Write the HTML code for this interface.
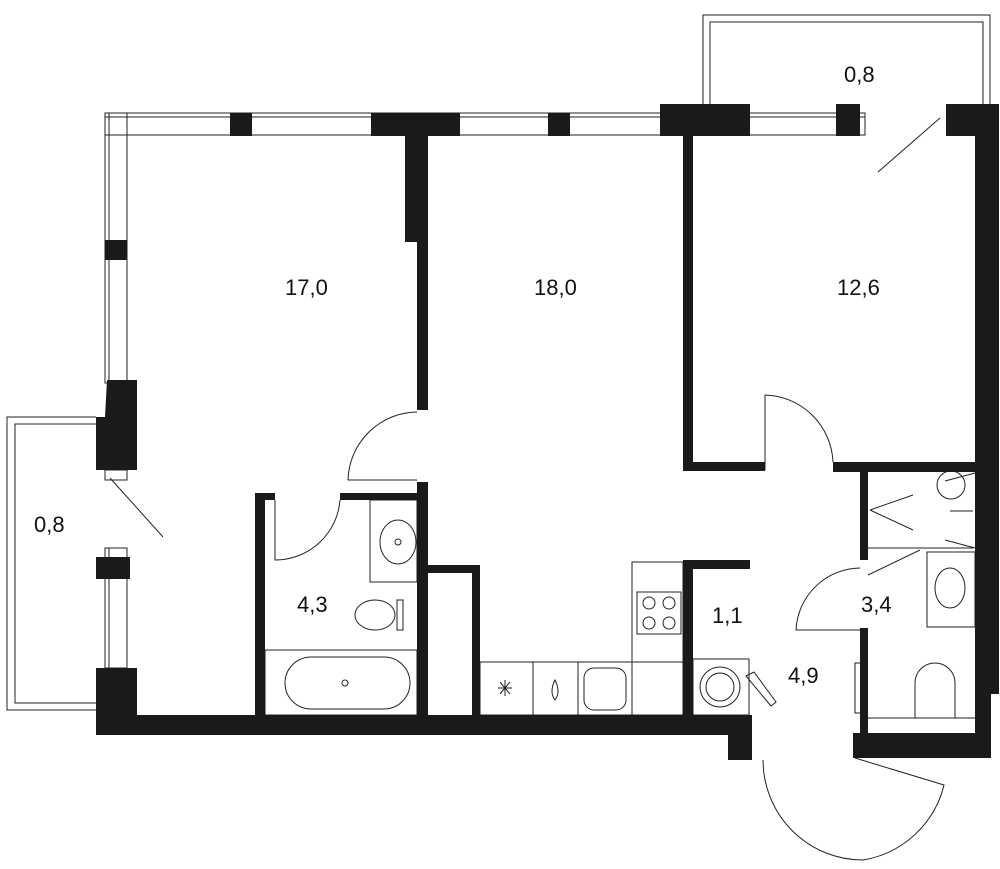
<!DOCTYPE html>
<html><head><meta charset="utf-8"><style>body{margin:0;background:#fff}svg{display:block}text{font-family:"Liberation Sans",sans-serif;font-size:22px;fill:#111}</style></head><body>
<svg width="1000" height="869" viewBox="0 0 1000 869">
<g fill="none" stroke="#222" stroke-width="1">
<path d="M703 104V15H990V104 M710 104V22H983V104"/>
<path d="M96 417H7V710H96 M96 424H15V703H96"/>
<rect x="105" y="113" width="760" height="22"/>
<line x1="105" y1="117" x2="865" y2="117"/>
<rect x="105" y="113" width="22" height="270"/>
<line x1="109" y1="113" x2="109" y2="383"/>
<rect x="105" y="470" width="22" height="10"/>
<rect x="105" y="548" width="22" height="120"/>
<line x1="109" y1="548" x2="109" y2="668"/>
<path d="M417 412A70 70 0 0 0 348 480H417"/>
<path d="M275 500V560A65 65 0 0 0 340 500"/>
<path d="M765 395V470 M765 395A70 70 0 0 1 833 462"/>
<path d="M860 568A65 65 0 0 0 796 630H860"/>
<path d="M763 760A100 100 0 0 0 863 860 A100 100 0 0 0 944 785 L855 758"/>
<line x1="878" y1="172" x2="940" y2="118"/>
<line x1="110" y1="478" x2="163" y2="537"/>
<rect x="370" y="500" width="47" height="82"/>
<ellipse cx="398" cy="542" rx="18" ry="22"/>
<circle cx="398" cy="542" r="3"/>
<rect x="265" y="650" width="152" height="65"/>
<rect x="285" y="657" width="125" height="52" rx="26"/>
<circle cx="345" cy="683" r="3"/>
<path d="M397 600h6v30h-6z M395 615 a20 15 0 0 0 -40 0 a20 15 0 0 0 40 0z"/>
<rect x="632" y="562" width="51" height="100"/>
<rect x="637" y="592" width="44" height="42"/>
<circle cx="649" cy="603" r="6"/><circle cx="669" cy="603" r="6"/><circle cx="649" cy="623" r="6"/><circle cx="669" cy="623" r="6"/>
<rect x="480" y="662" width="203" height="53"/>
<line x1="533" y1="662" x2="533" y2="715"/><line x1="578" y1="662" x2="578" y2="715"/><line x1="632" y1="662" x2="632" y2="715"/>
<rect x="584" y="668" width="42" height="42" rx="10"/>
<path d="M555 680q-6 12 0 20q6-8 0-20z"/>
<path d="M500 682l10 12M510 682l-10 12M505 680v16M498 688h14"/>
<rect x="693" y="659" width="56" height="56"/>
<circle cx="720" cy="687" r="20"/><circle cx="720" cy="687" r="14"/>
<path d="M746 676l8-4 22 30-5 4z"/>
<rect x="927" y="552" width="48" height="75"/>
<ellipse cx="950" cy="588" rx="15" ry="20"/>
<circle cx="951" cy="485" r="14"/>
<path d="M870 510l43-15M870 510l43 20M945 481l30-8M945 540l30 8 M868 548l105-0"/>
<line x1="868" y1="575" x2="920" y2="550"/>
<path d="M915 718v-35a20 20 0 0 1 40 0v35z M912 718h48 M868 718h107"/>
<rect x="855" y="663" width="6" height="50"/>
<line x1="950" y1="511" x2="973" y2="511"/>
</g>
<g fill="#1a1a1a">
<rect x="230" y="113" width="22" height="23"/>
<rect x="371" y="113" width="89" height="23"/>
<rect x="405" y="136" width="23" height="106"/>
<rect x="417" y="242" width="11" height="168"/>
<rect x="548" y="113" width="22" height="23"/>
<rect x="660" y="104" width="90" height="32"/>
<rect x="836" y="104" width="24" height="32"/>
<rect x="946" y="104" width="29" height="32"/>
<rect x="975" y="104" width="24" height="590"/>
<rect x="975" y="690" width="16" height="68"/>
<rect x="683" y="136" width="10" height="334"/>
<rect x="683" y="462" width="82" height="9"/>
<rect x="833" y="462" width="142" height="10"/>
<rect x="105" y="240" width="22" height="20"/>
<path d="M107 380H137V470H96V417H105Z"/>
<rect x="96" y="557" width="34" height="22"/>
<rect x="96" y="668" width="41" height="67"/>
<path d="M96 715H752V760H728V735H96Z"/>
<rect x="255" y="493" width="10" height="222"/>
<rect x="255" y="493" width="20" height="7"/>
<rect x="340" y="493" width="80" height="7"/>
<rect x="417" y="482" width="11" height="233"/>
<rect x="428" y="565" width="52" height="8"/>
<rect x="472" y="565" width="8" height="150"/>
<rect x="683" y="560" width="67" height="9"/>
<rect x="683" y="560" width="10" height="155"/>
<rect x="860" y="472" width="8" height="88"/>
<rect x="860" y="628" width="8" height="110"/>
<rect x="853" y="733" width="138" height="25"/>
</g>
<text x="285" y="295">17,0</text>
<text x="534" y="295">18,0</text>
<text x="837" y="295">12,6</text>
<text x="844" y="82">0,8</text>
<text x="34" y="532">0,8</text>
<text x="297" y="612">4,3</text>
<text x="712" y="623">1,1</text>
<text x="788" y="683">4,9</text>
<text x="861" y="612">3,4</text>
</svg>
</body></html>
